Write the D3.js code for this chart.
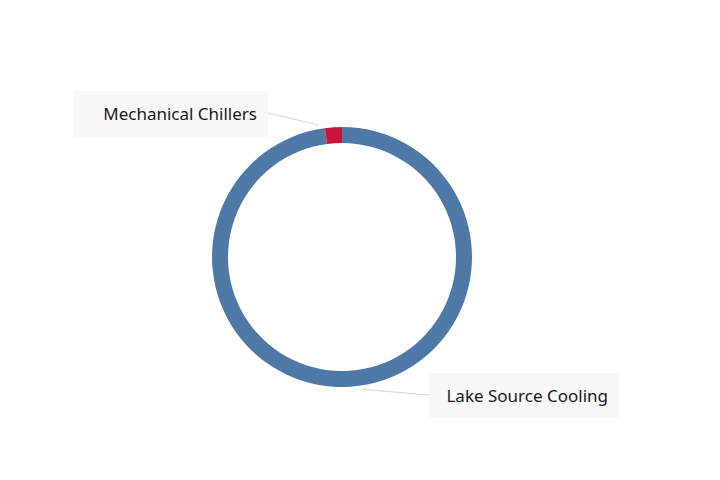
<!DOCTYPE html>
<html>
<head>
<meta charset="utf-8">
<script src="https://cdn.jsdelivr.net/npm/d3@7"></script>
<style>
  html, body { margin: 0; padding: 0; background: #fff; }
  svg { display: block; font-family: "Noto Sans", "Open Sans", sans-serif; }
  .label-box { fill: #f8f8f8; }
  .label-text { font-size: 17px; fill: #1a1a1a; }
  .leader { stroke: #d4d4d4; stroke-width: 1; fill: none; }
</style>
</head>
<body>
<svg id="chart" width="720" height="480"></svg>
<script>
// cooling source share (percent)
const categories = ['Lake Source Cooling', 'Mechanical Chillers'];
const shares = [97.9, 2.1];
const colors = ['#4e79a7', '#c8163a'];

const W = 720, H = 480;
const cx = 342, cy = 257;
const outerR = 130, innerR = 114;

// label boxes: where each callout sits and the angle its leader leaves the ring
const LABELS = {
  'Mechanical Chillers': { x: 73, y: 91, w: 195, h: 46, angle: -10, anchorY: 113 },
  'Lake Source Cooling': { x: 429, y: 373, w: 190, h: 45, angle: 171, anchorY: 395 },
};

const svg = d3.select('#chart');
const g = svg.append('g').attr('transform', `translate(${cx},${cy})`);

const data = categories.map((c, i) => ({ name: c, value: shares[i] }));
const pie = d3.pie().value((d) => d.value).sort(null);
const arc = d3.arc().innerRadius(innerR).outerRadius(outerR);
const color = d3.scaleOrdinal().domain(categories).range(colors);

g.selectAll('path.slice')
  .data(pie(data))
  .join('path')
  .attr('class', 'slice')
  .attr('d', arc)
  .attr('fill', (d) => color(d.data.name));

// callouts
const rad = (deg) => (deg * Math.PI) / 180;
categories.forEach((name) => {
  const L = LABELS[name];
  const a = rad(L.angle);
  const px = cx + Math.sin(a) * (outerR + 4);
  const py = cy - Math.cos(a) * (outerR + 4);
  const bx = L.x < cx ? L.x + L.w : L.x;

  svg.append('line')
    .attr('class', 'leader')
    .attr('x1', px).attr('y1', py)
    .attr('x2', bx).attr('y2', L.anchorY);

  svg.append('rect')
    .attr('class', 'label-box')
    .attr('x', L.x).attr('y', L.y)
    .attr('width', L.w).attr('height', L.h);

  svg.append('text')
    .attr('class', 'label-text')
    .attr('x', L.x + L.w - 11)
    .attr('y', L.y + L.h / 2 + 6)
    .attr('text-anchor', 'end')
    .text(name);
});
</script>
</body>
</html>
